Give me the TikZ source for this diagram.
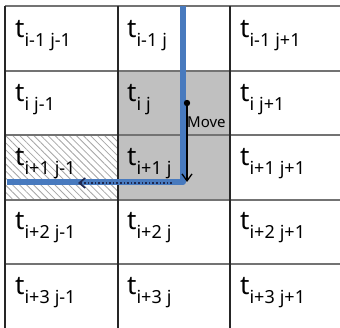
\documentclass[tikz,border=0pt]{standalone}
\usepackage{fontspec}
\setmainfont{Noto Sans}
\usetikzlibrary{patterns.meta,arrows.meta}
\definecolor{pathblue}{RGB}{72,122,190}
\definecolor{cellgray}{RGB}{192,192,192}
\definecolor{dotnavy}{RGB}{30,40,80}
\newcommand{\tsub}[2]{{\fontsize{26}{26}\selectfont t}\raisebox{-9pt}{\fontsize{18}{18}\selectfont #1\hspace{5pt}#2}}
\begin{document}
\begin{tikzpicture}[x=1pt,y=1pt,
  celltext/.style={anchor=base west, inner sep=0pt},
  hline/.style={draw=black!55, line width=1.1pt},
  vline/.style={draw=black!85, line width=1.1pt},
  bluepath/.style={draw=pathblue, line width=6pt, line join=round},
  movearrow/.style={draw=black, line width=1.3pt, -{Straight Barb[length=7pt,width=10pt]}},
  dotarrow/.style={draw=dotnavy, line width=1.6pt, dotted, -{Straight Barb[length=6pt,width=10pt]}}]
\useasboundingbox (0,0) rectangle (340,-328);
\fill[white] (0,0) rectangle (340,-328);
% shaded cells
\fill[cellgray] (118,-71) rectangle (230,-200);
\pattern[pattern={Lines[angle=-45,distance=5pt,line width=0.8pt]}, pattern color=black!35] (5,-135) rectangle (118,-200);
% grid
\foreach \y in {6,71,135,200,264} \draw[hline] (5,-\y) -- (340,-\y);
\foreach \x in {5,118,230} \draw[vline] (\x,-6) -- (\x,-328);
% texts
\node[celltext] (a11) at (15,-38) {\tsub{i-1}{j-1}};
\node[celltext] (a12) at (127,-38) {\tsub{i-1}{j}};
\node[celltext] (a13) at (240,-38) {\tsub{i-1}{j+1}};
\node[celltext] (a21) at (15,-102) {\tsub{i}{j-1}};
\node[celltext] (a22) at (127,-102) {\tsub{i}{j}};
\node[celltext] (a23) at (240,-102) {\tsub{i}{j+1}};
\node[celltext] (a31) at (15,-166) {\tsub{i+1}{j-1}};
\node[celltext] (a32) at (127,-166) {\tsub{i+1}{j}};
\node[celltext] (a33) at (240,-166) {\tsub{i+1}{j+1}};
\node[celltext] (a41) at (15,-230) {\tsub{i+2}{j-1}};
\node[celltext] (a42) at (127,-230) {\tsub{i+2}{j}};
\node[celltext] (a43) at (240,-230) {\tsub{i+2}{j+1}};
\node[celltext] (a51) at (15,-295) {\tsub{i+3}{j-1}};
\node[celltext] (a52) at (127,-295) {\tsub{i+3}{j}};
\node[celltext] (a53) at (240,-295) {\tsub{i+3}{j+1}};
% blue path
\coordinate (bs) at (183,-6);
\coordinate (bc) at (183,-182);
\coordinate (be) at (7,-182);
\draw[bluepath] (bs) -- (bc) -- (be);
% move arrow
\coordinate (ms) at (187,-103);
\coordinate (me) at (187,-182);
\draw[movearrow] (ms) -- (me);
\fill (ms) circle (3.2pt);
\node[anchor=west, inner sep=0pt, font=\fontsize{15}{15}\selectfont] (mv) at (187,-122) {Move};
% dotted arrow
\coordinate (ds) at (172,-183);
\coordinate (de) at (78,-183);
\draw[dotarrow] (ds) -- (de);
\end{tikzpicture}
\end{document}
